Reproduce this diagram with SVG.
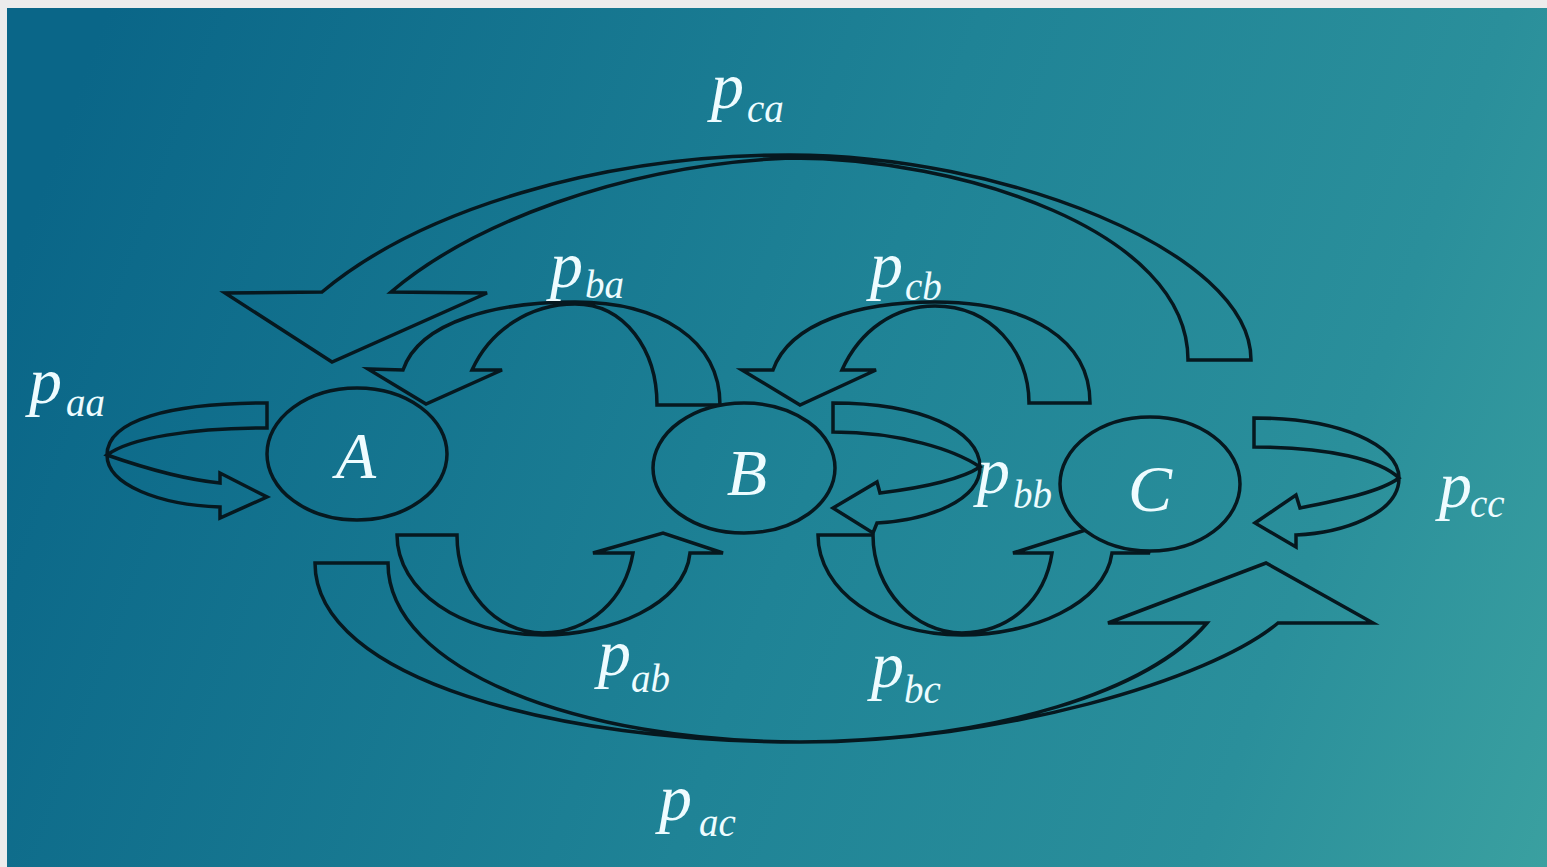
<svg xmlns="http://www.w3.org/2000/svg" width="1547" height="867" viewBox="0 0 1547 867">
<defs>
<linearGradient id="bg" gradientUnits="userSpaceOnUse" x1="0" y1="300" x2="1547" y2="867">
<stop offset="0" stop-color="#0a6688"/>
<stop offset="0.5" stop-color="#1f8396"/>
<stop offset="0.8" stop-color="#2a8f9b"/>
<stop offset="1" stop-color="#3aa0a0"/>
</linearGradient>
<style>
.arr{fill:none;stroke:#06181f;stroke-width:3.5;stroke-linejoin:miter}
.node{fill:url(#bg);stroke:#06181f;stroke-width:3.5}
.nl{font-family:"Liberation Serif",serif;font-style:italic;font-size:66px;fill:#eefcff;text-anchor:middle}
.p{font-family:"Liberation Serif",serif;font-style:italic;font-size:66px;fill:#eefcff}
.s{font-size:39px}
</style>
</defs>
<rect x="0" y="0" width="1547" height="867" fill="#ececec"/>
<rect x="7" y="8" width="1540" height="859" fill="url(#bg)"/>
<g id="connectors">
<path id="e-ca" class="arr" d="M1251,360 C1251,250 1000,155 790,155 C600,155 420,210 322,292 L225,293 L332,362 L487,293 L391,292 C470,225 620,165 790,158 C960,158 1188,230 1188,360 Z"/>
<path id="e-ba" class="arr" d="M720,405 C720,340 660,302 575,302 C500,302 420,320 403,370 L368,369 L426,404 L502,370 L472,370 C490,330 530,304 575,304 C625,304 657,350 657,405 Z"/>
<path id="e-cb" class="arr" d="M1090,403 C1090,340 1030,302 935,302 C860,302 790,322 773,370 L742,370 L800,405 L876,370 L842,370 C860,330 895,306 935,306 C990,306 1029,350 1029,403 Z"/>
<path id="e-aa" class="arr" d="M267,403 C170,403 107,420 107,455 C107,485 160,505 220,507 L220,518 L267,497 L220,473 L220,483 C190,480 150,470 107,455 C130,438 190,428 267,428 Z"/>
<path id="e-bb" class="arr" d="M833,403 C920,403 980,430 980,467 C980,500 930,520 877,523 L873,533 L833,508 L877,482 L880,493 C920,488 960,480 980,467 C955,450 900,432 833,432 Z"/>
<path id="e-cc" class="arr" d="M1254,418 C1340,418 1399,445 1399,478 C1399,515 1340,533 1296,535 L1296,547 L1255,523 L1296,495 L1300,508 C1340,500 1380,492 1399,478 C1380,460 1330,447 1254,447 Z"/>
<path id="e-ab" class="arr" d="M397,535 C397,590 460,635 543,635 C610,635 685,605 690,553 L723,553 L663,533 L593,553 L633,553 C625,600 590,632 543,633 C495,633 457,590 457,535 Z"/>
<path id="e-bc" class="arr" d="M818,535 C818,590 880,635 962,635 C1030,635 1105,605 1112,553 L1150,553 L1095,527 L1013,553 L1052,553 C1045,600 1010,632 962,633 C915,633 873,590 873,535 Z"/>
<path id="e-ac" class="arr" d="M315,563 C315,680 560,742 800,742 C1000,742 1210,680 1278,623 L1373,623 L1266,563 L1108,623 L1207,623 C1150,690 1000,740 800,742 C580,742 388,670 388,563 Z"/>
</g>
<g id="node-A"><ellipse class="node" cx="357" cy="454" rx="90" ry="66"/><text class="nl" x="356" y="478">A</text></g>
<g id="node-B"><ellipse class="node" cx="744" cy="468" rx="91" ry="65"/><text class="nl" x="747" y="495">B</text></g>
<g id="node-C"><ellipse class="node" cx="1150" cy="484" rx="90" ry="67"/><text class="nl" x="1150" y="511">C</text></g>
<g id="labels">
<text class="p" x="711" y="108">p<tspan class="s" x="747" y="122">ca</tspan></text>
<text class="p" x="550" y="287">p<tspan class="s" x="585" y="298">ba</tspan></text>
<text class="p" x="870" y="287">p<tspan class="s" x="905" y="300">cb</tspan></text>
<text class="p" x="29" y="403">p<tspan class="s" x="66" y="416">aa</tspan></text>
<text class="p" x="977" y="493">p<tspan class="s" x="1013" y="508">bb</tspan></text>
<text class="p" x="1439" y="507">p<tspan class="s" x="1470" y="517">cc</tspan></text>
<text class="p" x="598" y="675">p<tspan class="s" x="631" y="692">ab</tspan></text>
<text class="p" x="871" y="687">p<tspan class="s" x="904" y="703">bc</tspan></text>
<text class="p" x="659" y="820">p<tspan class="s" x="699" y="836">ac</tspan></text>
</g>
</svg>
